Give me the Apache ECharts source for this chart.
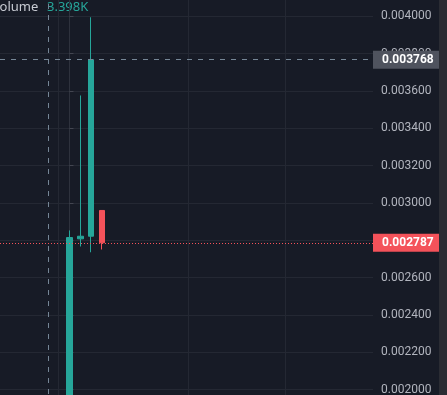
<!DOCTYPE html>
<html>
<head>
<meta charset="utf-8">
<script src="https://cdn.jsdelivr.net/npm/echarts@6/dist/echarts.min.js"></script>
<style>
  html, body { margin: 0; padding: 0; background: #2a2c33; overflow: hidden; }
  body { position: relative; width: 447px; height: 395px; }
  /* the chart is taller than the window so that 0.0018 / 0.0042 sit just off screen */
  #main { position: absolute; left: 0; top: -21px; width: 439px; height: 448px; }
</style>
</head>
<body>
<div id="main"></div>
<script>
// bar positions (bar index, 0 = first visible candle)
const barIndex = [0, 1, 2, 3];
const opens = [0.00185, 0.002808, 0.002822, 0.00296];
const closes = [0.002815, 0.002822, 0.003768, 0.002787];
const lows = [0.00185, 0.002767, 0.002736, 0.002751];
const highs = [0.002853, 0.003576, 0.003995, 0.00296];

// time gridlines and crosshair (in bar index)
const gridBars = [-1, 11, 20];
const crosshairBar = -2;
const crosshairPrice = 0.003768;
const lastPrice = 0.002787;
const volumeText = '3.398K';

// y axis ticks
const yMin = 0.0018;
const yMax = 0.0042;
const yStep = 0.0002;

const upColor = '#26A69A';
const downColor = '#F4525A';
const gridColor = '#242833';
const crossColor = '#758696';

const candleData = barIndex.map((x, i) => [x, opens[i], closes[i], lows[i], highs[i]]);

const priceLabel = (text, bg) => ({
  show: true,
  position: 'end',
  distance: 0,
  color: '#fff',
  fontSize: 12,
  fontWeight: 'bold',
  fontFamily: 'Roboto',
  backgroundColor: bg,
  padding: [2, 8, 2, 9],
  lineHeight: 14,
  formatter: text
});

const chart = echarts.init(document.getElementById('main'));
chart.setOption({
  animation: false,
  backgroundColor: '#171B26',
  grid: { left: 0, right: 66, top: 0, bottom: 0, outerBoundsMode: 'none', containLabel: false },
  xAxis: {
    type: 'value',
    min: -6.453,
    max: 28.18,
    axisLine: { show: false },
    axisTick: { show: false },
    axisLabel: { show: false },
    splitLine: { show: false }
  },
  yAxis: {
    type: 'value',
    position: 'right',
    min: yMin,
    max: yMax,
    interval: yStep,
    axisLine: { show: true, lineStyle: { color: '#2E323D' } },
    axisTick: { show: true, length: 4, lineStyle: { color: '#434651' } },
    axisLabel: {
      color: '#B2B5BE',
      fontSize: 12,
      fontFamily: 'Roboto',
      margin: 8,
      formatter: v => v.toFixed(6)
    },
    splitLine: { show: true, lineStyle: { color: gridColor } }
  },
  graphic: [
    {
      type: 'text',
      x: -8,
      y: 22,
      style: { text: 'Volume', fill: '#C8CBD3', font: '13px "Noto Sans"' }
    },
    {
      type: 'text',
      x: 47,
      y: 22,
      style: { text: volumeText, fill: upColor, font: '13px "Noto Sans"' }
    }
  ],
  series: [
    {
      // time gridlines and crosshair
      type: 'line',
      data: [],
      z: 1,
      silent: true,
      markLine: {
        silent: true,
        symbol: 'none',
        label: { show: false },
        lineStyle: { color: gridColor, type: 'solid', width: 1 },
        data: gridBars.map(b => ({ xAxis: b })).concat([
          {
            xAxis: crosshairBar,
            lineStyle: { color: crossColor, type: [5, 6], width: 1 }
          }
        ])
      }
    },
    {
      type: 'candlestick',
      z: 2,
      barWidth: 6,
      clip: false,
      encode: { x: 0, y: [1, 2, 3, 4] },
      data: candleData,
      itemStyle: {
        color: upColor,
        color0: downColor,
        borderColor: upColor,
        borderColor0: downColor,
        borderWidth: 1
      }
    },
    {
      // price lines with their axis labels
      type: 'line',
      data: [],
      z: 3,
      silent: true,
      markLine: {
        silent: true,
        symbol: 'none',
        precision: 6,
        data: [
          {
            yAxis: lastPrice,
            lineStyle: { color: downColor, type: [1, 2], width: 1 },
            label: priceLabel(lastPrice.toFixed(6), downColor)
          },
          {
            yAxis: crosshairPrice,
            lineStyle: { color: crossColor, type: [5, 6], width: 1 },
            label: priceLabel(crosshairPrice.toFixed(6), '#4F535E')
          }
        ]
      }
    }
  ]
});
</script>
</body>
</html>
